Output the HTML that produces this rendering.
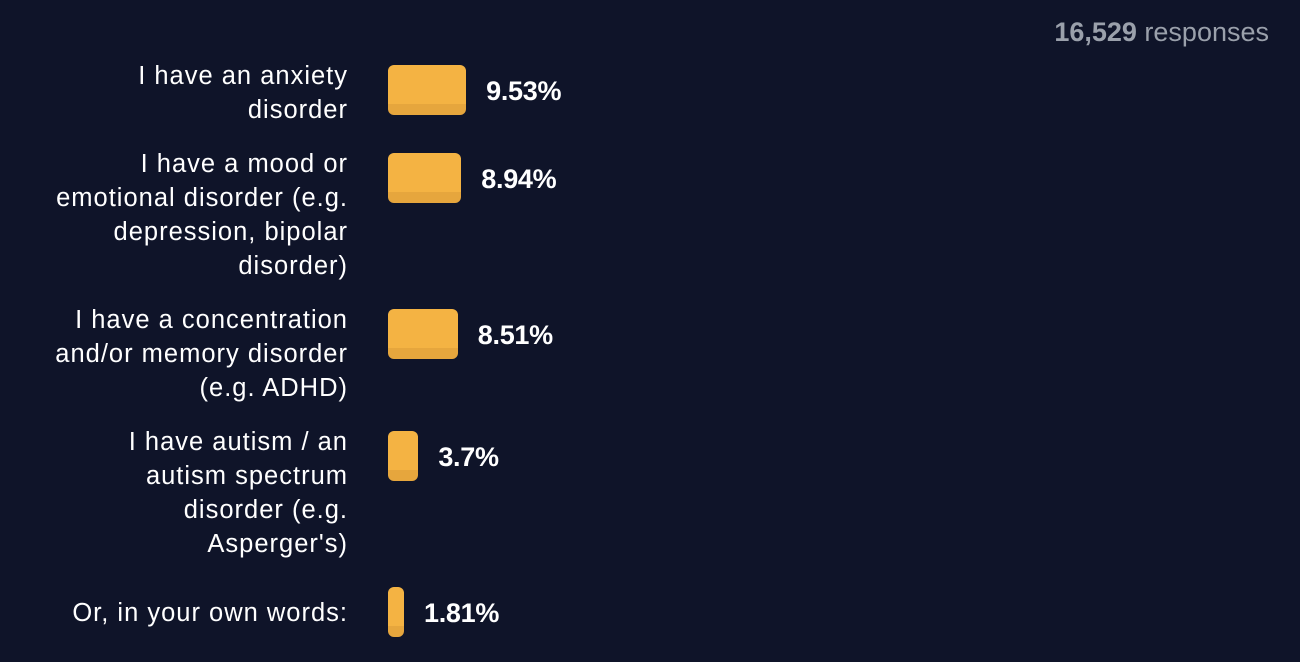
<!DOCTYPE html>
<html><head><meta charset="utf-8"><style>
body{margin:0;width:1300px;height:662px;background:#0f1429;overflow:hidden;font-family:"Liberation Sans",sans-serif;position:relative}
.lbl{position:absolute;right:952px;text-align:right;color:#fff;font-size:25.5px;letter-spacing:1px;line-height:34px;white-space:nowrap}
.bar{position:absolute;left:388px;height:50px;border-radius:6px;background:linear-gradient(#f4b343 0,#f4b343 78%,#e6a63d 78%)}
.val{position:absolute;color:#fff;font-weight:bold;font-size:27px;line-height:52px;letter-spacing:-0.3px}
#resp{position:absolute;right:31px;top:17px;color:#9aa0ab;font-size:27px}
</style></head><body>
<div id="resp"><b>16,529</b> responses</div>
<div id="chart"></div>
<script>
const categories=["I have an anxiety<br>disorder","I have a mood or<br>emotional disorder (e.g.<br>depression, bipolar<br>disorder)","I have a concentration<br>and/or memory disorder<br>(e.g. ADHD)","I have autism / an<br>autism spectrum<br>disorder (e.g.<br>Asperger's)","Or, in your own words:"];
const values=[9.53,8.94,8.51,3.7,1.81];
const labels=["9.53%","8.94%","8.51%","3.7%","1.81%"];
const rowTops=[59,147,303,425,596];
const barTops=[65,153,309,431,587];
const c=document.getElementById('chart');
function xs(v){return Math.max(v*8.2,16);}
values.forEach((v,i)=>{
 const l=document.createElement('div');l.className='lbl';l.innerHTML=categories[i];l.style.top=rowTops[i]+'px';
 
 
 c.appendChild(l);
 const b=document.createElement('div');b.className='bar';b.style.top=barTops[i]+'px';b.style.width=xs(v)+'px';
 
 
 c.appendChild(b);
 const t=document.createElement('div');t.className='val';t.textContent=labels[i];t.style.top=barTops[i]+'px';t.style.left=(388+xs(v)+20)+'px';
 
 
 c.appendChild(t);
});
</script>
</body></html>
